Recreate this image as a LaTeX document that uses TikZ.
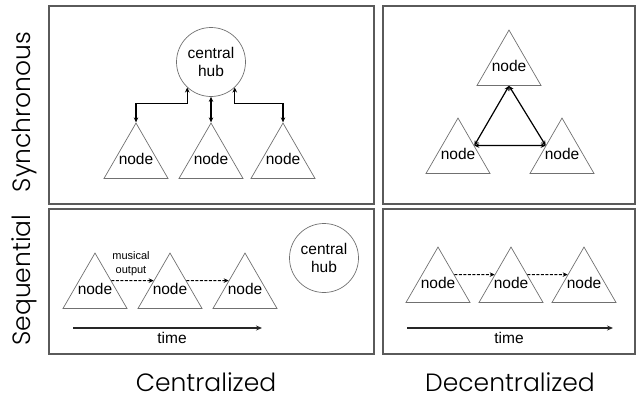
\documentclass[tikz,border=0pt]{standalone}
\usepackage{fontspec}
\setmainfont{Liberation Sans}
\newfontfamily\labelfont{Poppins}[UprightFont=* Light]
\usetikzlibrary{shapes.geometric,arrows.meta,calc}
\definecolor{framegray}{HTML}{5A5A5A}
\definecolor{shapegray}{HTML}{707070}
\newcommand{\tritext}[1]{\smash{\makebox[0pt]{\raisebox{-0.5ex}{#1}}}}
\tikzset{
  panel/.style={draw=framegray, line width=1.1pt},
  tri/.style={regular polygon, regular polygon sides=3, minimum size=73.9pt, inner sep=0pt,
    draw=shapegray, line width=0.7pt, font=\fontsize{15.5}{16}\selectfont},
  hubnode/.style={circle, minimum size=69pt, inner sep=0pt, draw=shapegray, line width=0.7pt,
    align=center, font=\fontsize{15.5}{18}\selectfont},
  biarrow/.style={{Stealth[length=5pt,width=4.5pt]}-{Stealth[length=5pt,width=4.5pt]}, line width=1.2pt},
  dasharrow/.style={-{Stealth[length=5pt,width=4.5pt]}, dashed, dash pattern=on 3pt off 1.5pt, line width=1pt},
  timearrow/.style={-{Stealth[length=6pt,width=5pt]}, line width=1.2pt, draw=black!85},
  biglabel/.style={font=\labelfont\fontsize{25}{28}\selectfont, inner sep=0pt},
  smalltext/.style={font=\fontsize{15.5}{16}\selectfont, inner sep=0pt},
}
\begin{document}
\begin{tikzpicture}[x=1pt,y=-1pt]
\useasboundingbox (0,0) rectangle (644,397);
% panels
\draw[panel] (49,6) rectangle (374,204);
\draw[panel] (49,209) rectangle (374,354);
\draw[panel] (383,6) rectangle (635,204);
\draw[panel] (383,209) rectangle (635,354);
% row / column labels
\node[biglabel, rotate=90] (lsync) at (24,112) {Synchronous};
\node[biglabel, rotate=90] (lseq) at (24,280) {Sequential};
\node[biglabel, anchor=base] (lcen) at (206,391) {Centralized};
\node[biglabel, anchor=base] (ldec) at (510,391) {Decentralized};
% top-left: synchronous centralized
\node[hubnode] (hubA) at (211,62) {central\\hub};
\node[tri] (a1) at (136,160) {\tritext{node}};
\node[tri] (a2) at (211,160) {\tritext{node}};
\node[tri] (a3) at (283,160) {\tritext{node}};
\draw[biarrow] (a1.corner 1) -- ++(0,-19) -| (hubA.-133);
\draw[biarrow] (a2.corner 1) -- (hubA.south);
\draw[biarrow] (a3.corner 1) -- ++(0,-19) -| (hubA.-47);
% top-right: synchronous decentralized
\node[tri] (b1) at (509,67) {\tritext{node}};
\node[tri] (b2) at (458,155) {\tritext{node}};
\node[tri] (b3) at (562,155) {\tritext{node}};
\draw[biarrow] (b1.side 2) -- (b2.side 3);
\draw[biarrow] (b1.side 2) -- (b3.side 1);
\draw[biarrow] (b2.side 3) -- (b3.side 1);
% bottom-left: sequential centralized
\node[tri] (c1) at (95,290) {\tritext{node}};
\node[tri] (c2) at (170,290) {\tritext{node}};
\node[tri] (c3) at (245,290) {\tritext{node}};
\node[hubnode] (hubC) at (324,258) {central\\hub};
\draw[dasharrow] (c1.side 3) -- (c2.side 1);
\draw[dasharrow] (c2.side 3) -- (c3.side 1);
\node[align=center, font=\fontsize{11}{14}\selectfont, inner sep=0pt] (mo) at (131,264) {musical\\output};
\coordinate (ct0) at (73,328);
\coordinate (ct1) at (262,328);
\draw[timearrow] (ct0) -- (ct1);
\node[smalltext] (ctime) at (172,338) {time};
% bottom-right: sequential decentralized
\node[tri] (d1) at (438,284) {\tritext{node}};
\node[tri] (d2) at (511,284) {\tritext{node}};
\node[tri] (d3) at (584,284) {\tritext{node}};
\draw[dasharrow] (d1.side 3) -- (d2.side 1);
\draw[dasharrow] (d2.side 3) -- (d3.side 1);
\coordinate (dt0) at (407,328);
\coordinate (dt1) at (613,328);
\draw[timearrow] (dt0) -- (dt1);
\node[smalltext] (dtime) at (509,338) {time};
\end{tikzpicture}
\end{document}
